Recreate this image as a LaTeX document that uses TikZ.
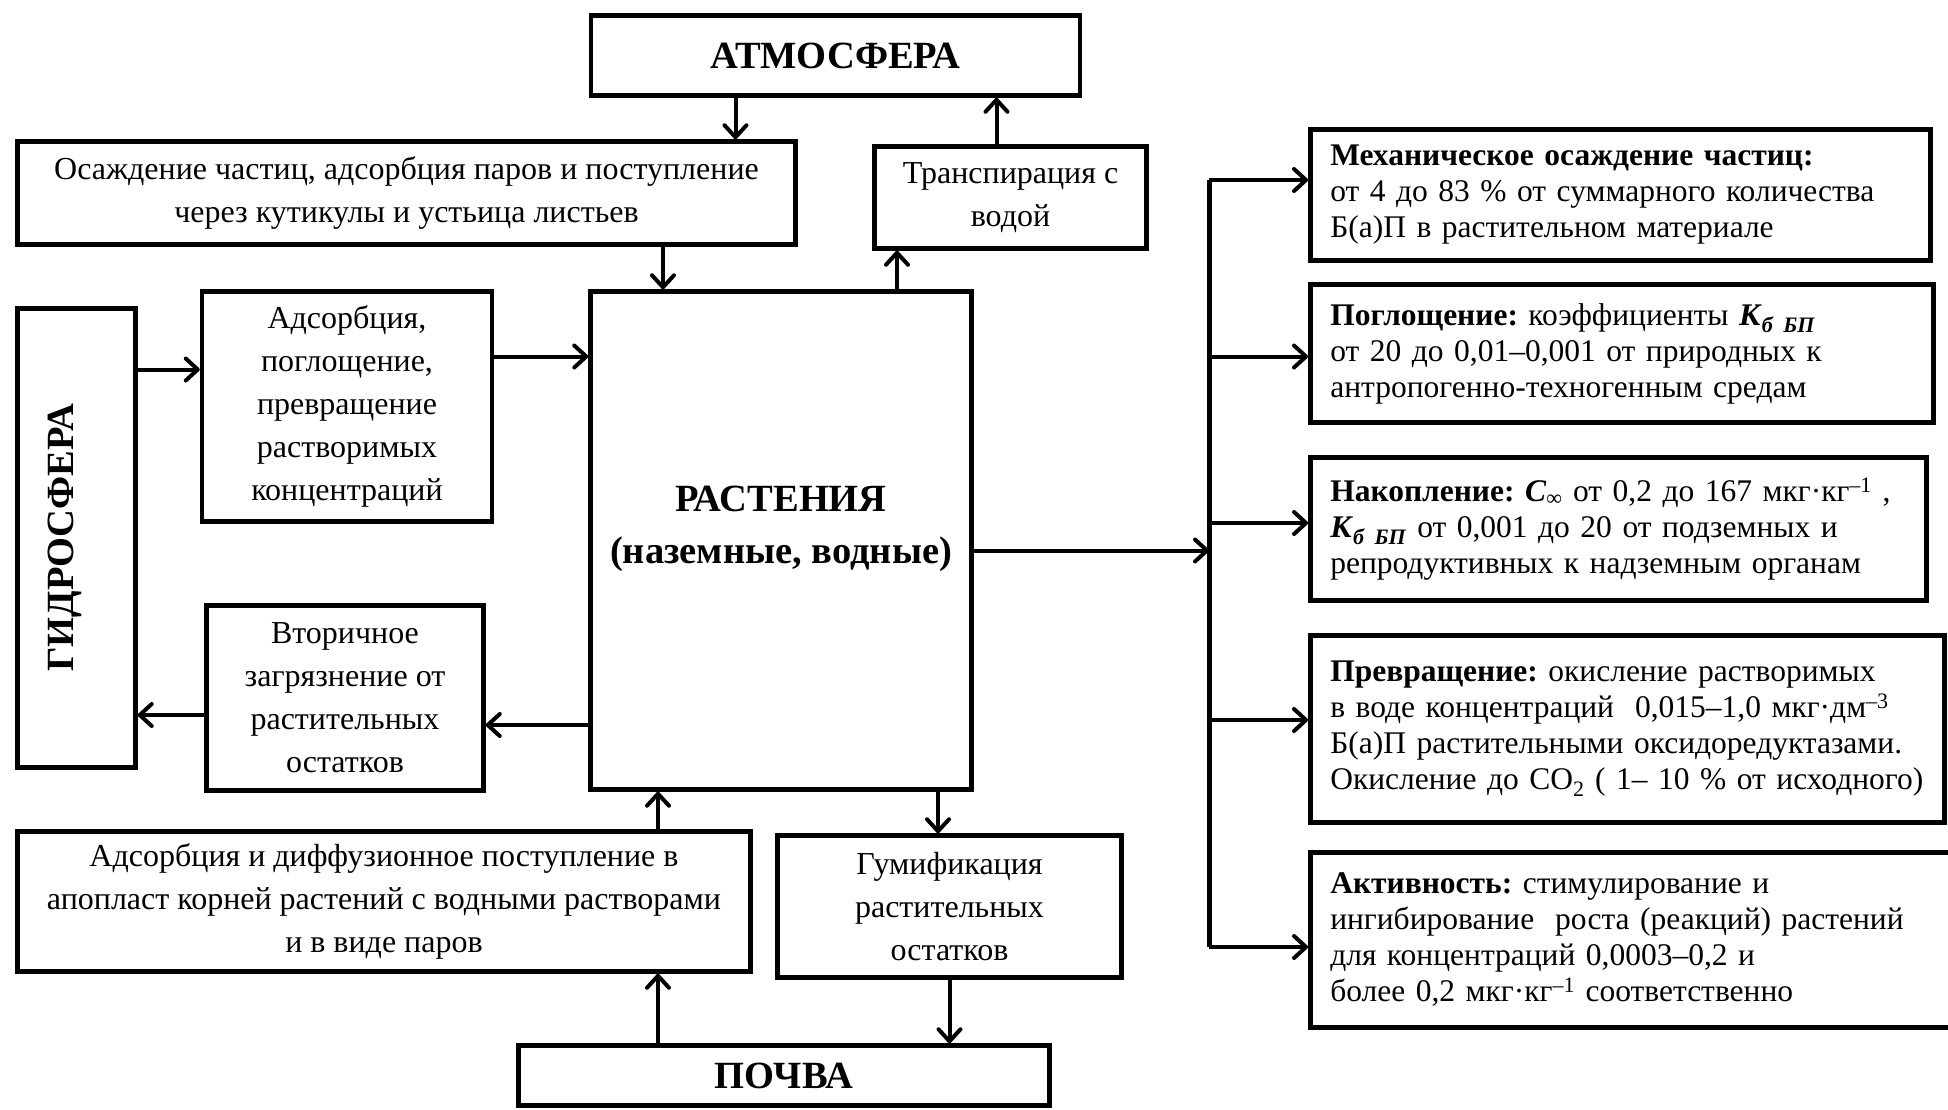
\documentclass[tikz,border=0pt]{standalone}
\usepackage{fontspec}
\setmainfont{Liberation Serif}
\usepackage{tikz}
\usetikzlibrary{arrows.meta}
\frenchspacing
\newcommand\Kbp[0]{\textbf{\textit{К}}\textsubscript{\textbf{\textit{б БП}}}}
\newcommand\Cinf[0]{\textbf{\textit{С}}\textsubscript{∞}}
\newcommand\mkg[1]{мкг·#1}
\begin{document}
\begin{tikzpicture}[x=1pt, y=-1pt,
    box/.style={draw, line width=4.5pt, inner sep=0pt, align=center,
        font=\fontsize{32}{43}\selectfont},
    bigbox/.style={box, font=\fontsize{38.5}{52}\selectfont\bfseries},
    note/.style={draw, line width=4.5pt, anchor=west, inner xsep=20pt,
        inner ysep=0pt, align=left, font=\fontsize{31.5}{36}\selectfont},
    arr/.style={line width=4pt, -{Straight Barb[length=12pt, width=22pt, round]}}]
\useasboundingbox (0,0) rectangle (1948,1109);
\node[bigbox, minimum width=489pt, minimum height=80pt] (atm) at (835.5,55.5) {АТМОСФЕРА};
\node[box, minimum width=778pt, minimum height=103pt] (osd) at (406.5,193)
    {Осаждение частиц, адсорбция паров и поступление\\через кутикулы и устьица листьев};
\node[box, minimum width=272pt, minimum height=102pt] (trn) at (1010.5,197.5) {Транспирация с\\водой};
\node[box, minimum width=290pt, minimum height=230pt] (ads) at (347,406.5)
    {Адсорбция,\\поглощение,\\превращение\\растворимых\\концентраций};
\node[bigbox, minimum width=381pt, minimum height=498pt] (pl) at (781,540.5)
    {РАСТЕНИЯ\\(наземные, водные)\\[-20pt]\mbox{}};
\node[bigbox, minimum width=118pt, minimum height=459pt] (hyd) at (76.5,538)
    {\rotatebox{90}{\raisebox{12pt}[\height][\depth]{ГИДРОСФЕРА}}};
\node[box, minimum width=277pt, minimum height=185pt] (vtr) at (345,698)
    {Вторичное\\загрязнение от\\растительных\\остатков};
\node[box, minimum width=733pt, minimum height=140pt] (dif) at (384,901.5)
    {Адсорбция и диффузионное поступление в\\апопласт корней растений с водными растворами\\и в виде паров};
\node[box, minimum width=344pt, minimum height=142pt] (gum) at (949.5,906.5) {Гумификация\\растительных\\остатков};
\node[bigbox, minimum width=531pt, minimum height=60pt] (soil) at (784,1075.5) {ПОЧВА};

\node[note, text width=580pt, minimum height=131pt] (mech) at (1308,195)
    {\textbf{Механическое осаждение частиц:}\\от 4 до 83 \% от суммарного количества\\Б(а)П в растительном материале};
\node[note, text width=583pt, minimum height=138pt] (pog) at (1308,353.5)
    {\textbf{Поглощение:} коэффициенты \Kbp\\от 20 до 0,01–0,001 от природных к\\антропогенно-техногенным средам};
\node[note, text width=576pt, minimum height=143pt] (nak) at (1308,529)
    {\textbf{Накопление:} \Cinf{} от 0,2 до 167 \mkg{кг}\textsuperscript{–1} ,\\\Kbp{} от 0,001 до 20 от подземных и\\репродуктивных к надземным органам};
\node[note, text width=594pt, minimum height=187pt] (prv) at (1308,729)
    {\textbf{Превращение:} окисление растворимых\\\mbox{в воде концентраций\ \ 0,015–1,0 \mkg{дм}\textsuperscript{–3}}\\\mbox{Б(а)П растительными оксидоредуктазами.}\\\mbox{Окисление до CO\textsubscript{2} ( 1– 10 \% от исходного)}};
\node[note, text width=610pt, minimum height=175pt] (akt) at (1308,940)
    {\textbf{Активность:} стимулирование и\\ингибирование\ \ роста (реакций) растений\\для концентраций 0,0003–0,2 и\\более 0,2 \mkg{кг}\textsuperscript{–1} соответственно};

\coordinate (bus top) at (1209,180);
\coordinate (bus bot) at (1209,947);
\draw[line width=5pt] (bus top) -- (bus bot);

\draw[arr] ([xshift=-100pt]atm.south) -- ([xshift=-100pt]atm.south |- osd.north);
\draw[arr] ([xshift=-14pt]trn.north) -- ([xshift=-14pt]trn.north |- atm.south);
\draw[arr] ([xshift=-118pt]pl.north |- osd.south) -- ([xshift=-118pt]pl.north);
\draw[arr] ([xshift=116pt]pl.north) -- ([xshift=116pt]pl.north |- trn.south);
\draw[arr] ([yshift=37pt]ads.west -| hyd.east) -- ([yshift=37pt]ads.west);
\draw[arr] ([yshift=50pt]ads.east) -- ([yshift=50pt]ads.east -| pl.west);
\draw[arr] ([yshift=-27pt]vtr.east -| pl.west) -- ([yshift=-27pt]vtr.east);
\draw[arr] ([yshift=-17pt]vtr.west) -- ([yshift=-17pt]vtr.west -| hyd.east);
\draw[arr] ([xshift=-123pt]pl.south |- dif.north) -- ([xshift=-123pt]pl.south);
\draw[arr] ([xshift=-126pt]soil.north) -- ([xshift=-126pt]soil.north |- dif.south);
\draw[arr] ([xshift=157pt]pl.south) -- ([xshift=157pt]pl.south |- gum.north);
\draw[arr] (gum.south) -- (gum.south |- soil.north);
\draw[arr] ([yshift=-10pt]pl.east) -- ([yshift=-10pt]pl.east -| bus top);

\draw[arr] (bus top) -- ([yshift=15pt]mech.west);
\draw[arr] ([yshift=-3pt]pog.west -| bus top) -- ([yshift=-3pt]pog.west);
\draw[arr] ([yshift=6pt]nak.west -| bus top) -- ([yshift=6pt]nak.west);
\draw[arr] ([yshift=9pt]prv.west -| bus top) -- ([yshift=9pt]prv.west);
\draw[arr] (bus bot) -- ([yshift=-7pt]akt.west);
\end{tikzpicture}
\end{document}
